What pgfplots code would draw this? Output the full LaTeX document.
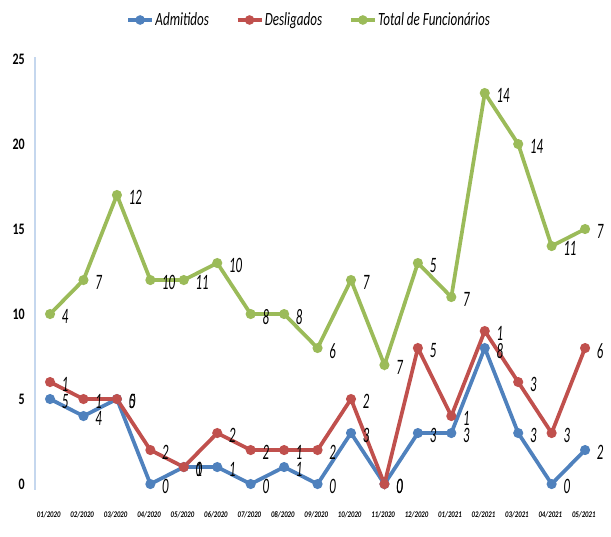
\documentclass[border=0pt]{standalone}
\usepackage{fontspec}
\usepackage{pgfplots}
\usepackage{pgfplotstable}
\pgfplotsset{compat=1.18}
\setmainfont{Carlito}
\newfontfamily\lblfont{Carlito}[FakeStretch=0.58]
\newfontfamily\legfont{Carlito}[FakeStretch=0.70]
\newfontfamily\ytfont{Carlito}[FakeStretch=0.75]
\newfontfamily\xtfont{Carlito}[FakeStretch=0.78]
\definecolor{cblue}{HTML}{4F81BD}
\definecolor{cred}{HTML}{C0504D}
\definecolor{cgreen}{HTML}{9BBB59}
\definecolor{axblue}{HTML}{C5D7EE}

\pgfplotstableread{
x y lab
0 5 5
1 4 4
2 5 5
3 0 0
4 1 1
5 1 1
6 0 0
7 1 1
8 0 0
9 3 3
10 0 0
11 3 3
12 3 3
13 8 8
14 3 3
15 0 0
16 2 2
}\adm
\pgfplotstableread{
x y lab
0 6 1
1 5 1
2 5 0
3 2 2
4 1 0
5 3 2
6 2 2
7 2 1
8 2 2
9 5 2
10 0 0
11 8 5
12 4 1
13 9 1
14 6 3
15 3 3
16 8 6
}\des
\pgfplotstableread{
x y lab
0 10 4
1 12 7
2 17 12
3 12 10
4 12 11
5 13 10
6 10 8
7 10 8
8 8 6
9 12 7
10 7 7
11 13 5
12 11 7
13 23 14
14 20 14
15 14 11
16 15 7
}\tot

\begin{document}
\begin{tikzpicture}
\path[use as bounding box] (0,0) rectangle (458.25pt,402pt);
\begin{axis}[
  at={(26.25pt,34.5pt)}, anchor=south west,
  scale only axis, width=425.1pt, height=324.5pt,
  xmin=-0.45, xmax=16.5, ymin=-0.35, ymax=25.1,
  clip=false,
  axis lines=left,
  x axis line style={draw=none},
  y axis line style={-, draw=axblue, line width=1.5pt},
  major tick length=0pt,
  ytick={0,5,10,15,20,25},
  xtick={0,...,16},
  xticklabels={01/2020,02/2020,03/2020,04/2020,05/2020,06/2020,07/2020,08/2020,09/2020,10/2020,11/2020,12/2020,01/2021,02/2021,03/2021,04/2021,05/2021},
  /pgf/number format/assume math mode=true,
  yticklabel style={font=\ytfont\bfseries\fontsize{12}{13}\selectfont, anchor=east, inner sep=0pt, xshift=-7.5pt},
  xticklabel style={font=\xtfont\bfseries\itshape\fontsize{6.5}{7}\selectfont, anchor=north, inner sep=0pt, yshift=-16pt, xshift=-1pt},
  every axis plot/.append style={line width=2.8pt, mark=*, mark size=2.3pt},
  nodes near coords,
  point meta=explicit symbolic,
  every node near coord/.append style={anchor=west, font=\lblfont\itshape\fontsize{16.5}{18}\selectfont, text=black, inner sep=0pt, xshift=7.5pt, yshift=-2pt},
  legend style={at={(0.483,1)}, anchor=center, yshift=28pt, draw=none, fill=none,
    font=\legfont\itshape\fontsize{14}{15}\selectfont, nodes={inner sep=1pt},
    /tikz/every even column/.append style={column sep=19pt}},
  legend columns=-1,
  legend image code/.code={\draw[mark repeat=2, mark phase=2, line width=3pt, mark size=2pt] plot coordinates {(0pt,0pt)(9pt,0pt)(18pt,0pt)};},
]
\addplot[color=cblue, mark options={fill=cblue, draw=cblue}] table[x=x, y=y, meta=lab] {\adm};
\addlegendentry{Admitidos}
\addplot[color=cred, mark options={fill=cred, draw=cred}] table[x=x, y=y, meta=lab] {\des};
\addlegendentry{Desligados}
\addplot[color=cgreen, mark options={fill=cgreen, draw=cgreen}] table[x=x, y=y, meta=lab] {\tot};
\addlegendentry{Total de Funcionários}
\end{axis}
\end{tikzpicture}
\end{document}
